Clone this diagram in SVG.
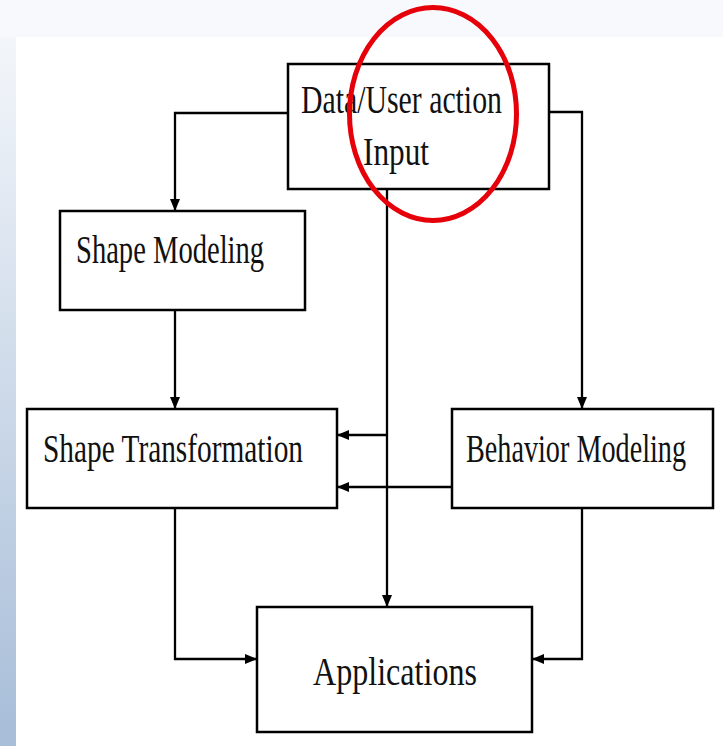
<svg xmlns="http://www.w3.org/2000/svg" width="723" height="746" viewBox="0 0 723 746">
<style>
.box{fill:#fff;stroke:#000;stroke-width:2.5}
.lbl{font-family:"Liberation Serif","DejaVu Serif",serif;font-size:39px;fill:#111}
.con{fill:none;stroke:#000;stroke-width:2.3}
</style>
<defs>
<linearGradient id="side" x1="0" y1="0" x2="0" y2="1">
<stop offset="0" stop-color="#f3f6fa"/>
<stop offset="1" stop-color="#a7bdd8"/>
</linearGradient>
<marker id="arr" viewBox="0 0 12 10" refX="12" refY="5" markerWidth="12" markerHeight="10" markerUnits="userSpaceOnUse" orient="auto">
<path d="M0,0 L12,5 L0,10 z" fill="#000"/>
</marker>
</defs>
<rect x="0" y="0" width="723" height="746" fill="#fff"/>
<rect x="0" y="0" width="723" height="37" fill="#f8f9fc"/>
<rect x="0" y="37" width="16" height="709" fill="url(#side)"/>
<rect x="0" y="0" width="16" height="37" fill="#f8f9fc"/>

<g id="connectors">
<path class="con" d="M288,113 H175 V211" marker-end="url(#arr)"/>
<path class="con" d="M549,112 H582 V409" marker-end="url(#arr)"/>
<path class="con" d="M387,189 V607" marker-end="url(#arr)"/>
<path class="con" d="M387,435 H337" marker-end="url(#arr)"/>
<path class="con" d="M452,487 H337" marker-end="url(#arr)"/>
<path class="con" d="M175,310 V409" marker-end="url(#arr)"/>
<path class="con" d="M175,508 V659 H257" marker-end="url(#arr)"/>
<path class="con" d="M582,508 V659 H532" marker-end="url(#arr)"/>
</g>

<g id="input">
<rect class="box" x="288" y="64" width="261" height="125"/>
<text class="lbl" transform="translate(301,113) scale(0.764,1)" textLength="263" lengthAdjust="spacingAndGlyphs">Data/User action</text>
<text class="lbl" transform="translate(363,165) scale(0.80,1)" textLength="82.5" lengthAdjust="spacingAndGlyphs">Input</text>
</g>
<g id="shape-modeling">
<rect class="box" x="60" y="211" width="245" height="99"/>
<text class="lbl" transform="translate(76,263) scale(0.732,1)" textLength="257" lengthAdjust="spacingAndGlyphs">Shape Modeling</text>
</g>
<g id="shape-transformation">
<rect class="box" x="27" y="409" width="310" height="99"/>
<text class="lbl" transform="translate(43,462) scale(0.748,1)" textLength="347.6" lengthAdjust="spacingAndGlyphs">Shape Transformation</text>
</g>
<g id="behavior-modeling">
<rect class="box" x="452" y="409" width="261" height="99"/>
<text class="lbl" transform="translate(466,462) scale(0.723,1)" textLength="304.3" lengthAdjust="spacingAndGlyphs">Behavior Modeling</text>
</g>
<g id="applications">
<rect class="box" x="257" y="607" width="275" height="125"/>
<text class="lbl" transform="translate(313,685) scale(0.823,1)" textLength="199.3" lengthAdjust="spacingAndGlyphs">Applications</text>
</g>
<ellipse cx="433" cy="114" rx="83.5" ry="106.5" fill="none" stroke="#e6000a" stroke-width="5"/>
</svg>
